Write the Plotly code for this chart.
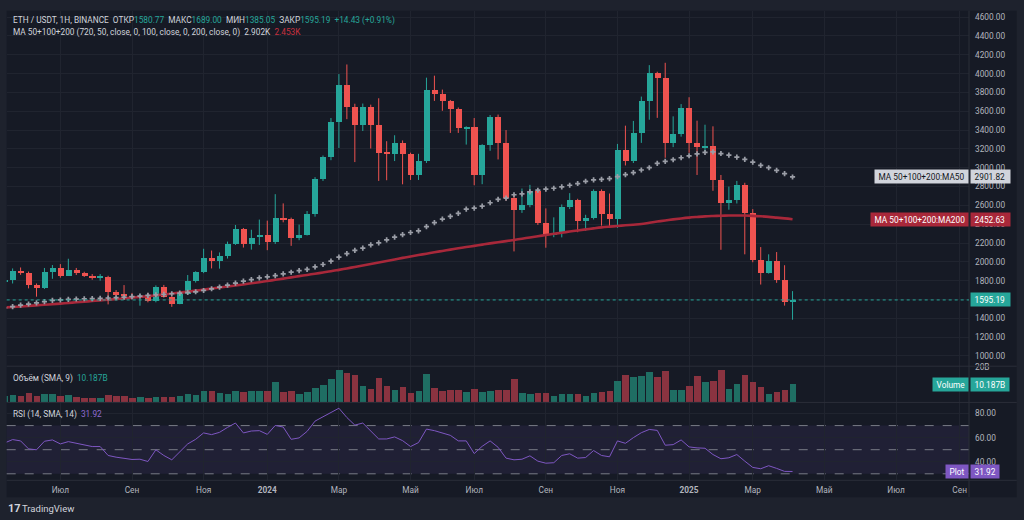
import plotly.graph_objects as go
import pandas as pd

# ---------------- data (weekly ETH/USDT) ----------------
dates = pd.date_range("2023-05-15", periods=100, freq="7D")

open_ = [1797, 1806, 1911, 1887, 1753, 1722, 1900, 1939, 1858, 1922,
         1886, 1858, 1833, 1845, 1682, 1660, 1645, 1630, 1640, 1584,
         1735, 1629, 1558, 1665, 1798, 1893, 2044, 2016, 2062, 2192,
         2357, 2196, 2275, 2285, 2220, 2473, 2455, 2255, 2290, 2508,
         2884, 3116, 3493, 3886, 3651, 3457, 3651, 3457, 3158, 3152,
         3264, 3145, 2930, 3071, 3833, 3784, 3710, 3626, 3425, 3440,
         2930, 3246, 3538, 3271, 2684, 2554, 2613, 2755, 2420, 2297,
         2310, 2586, 2663, 2438, 2473, 2755, 2508, 2455, 3187, 3077,
         3370, 3710, 4009, 3960, 3271, 3359, 3640, 3271, 3219, 3230,
         2870, 2631, 2659, 2817, 2519, 2027, 1886, 2010, 1806, 1580.77]
high = [1850, 1930, 1940, 1897, 1770, 1935, 1966, 1976, 2033, 1935,
        1895, 1870, 1870, 1852, 1700, 1753, 1670, 1660, 1670, 1750,
        1755, 1640, 1670, 1860, 1900, 2139, 2120, 2100, 2215, 2392,
        2360, 2341, 2449, 2438, 2719, 2621, 2470, 2396, 2540, 2900,
        3130, 3528, 3995, 4097, 3680, 3682, 3670, 3738, 3282, 3345,
        3290, 3160, 3148, 3957, 3978, 3830, 3720, 3640, 3440, 3528,
        3250, 3560, 3565, 3400, 2720, 2779, 2818, 2760, 2568, 2473,
        2610, 2730, 2670, 2500, 2770, 2770, 2726, 3253, 3447, 3497,
        3756, 4090, 4020, 4115, 3546, 3676, 3749, 3500, 3457, 3440,
        2923, 2800, 2860, 2840, 2560, 2157, 2080, 2104, 1964, 1689.00]
low = [1760, 1770, 1862, 1718, 1630, 1712, 1820, 1832, 1850, 1860,
       1840, 1810, 1800, 1548, 1630, 1620, 1600, 1534, 1570, 1570,
       1620, 1522, 1550, 1650, 1780, 1880, 1930, 1928, 2035, 2180,
       2152, 2130, 2180, 2124, 2190, 2420, 2170, 2230, 2280, 2480,
       2860, 3080, 3210, 3516, 3060, 3390, 3204, 2860, 2867, 3071,
       2824, 2870, 2870, 3050, 3710, 3605, 3370, 3370, 3246, 2814,
       2825, 3180, 3088, 2650, 2111, 2520, 2580, 2392, 2150, 2262,
       2260, 2561, 2315, 2330, 2450, 2385, 2360, 2360, 3024, 3050,
       3264, 3510, 3530, 3106, 3219, 3330, 3159, 2923, 3159, 2755,
       2128, 2554, 2620, 2080, 1996, 1759, 1875, 1777, 1535, 1385.05]
close = [1806, 1911, 1887, 1753, 1724, 1900, 1939, 1858, 1922, 1886,
         1858, 1833, 1845, 1682, 1654, 1636, 1630, 1640, 1584, 1735,
         1629, 1558, 1665, 1798, 1893, 2044, 2016, 2062, 2192, 2357,
         2196, 2262, 2290, 2220, 2473, 2455, 2255, 2290, 2508, 2884,
         3116, 3493, 3886, 3651, 3457, 3651, 3457, 3158, 3152, 3264,
         3145, 2930, 3071, 3833, 3784, 3710, 3626, 3422, 3440, 2930,
         3246, 3538, 3271, 2684, 2554, 2613, 2755, 2420, 2297, 2310,
         2586, 2663, 2438, 2473, 2755, 2508, 2455, 3187, 3077, 3370,
         3710, 4009, 3960, 3271, 3359, 3640, 3271, 3219, 3230, 2870,
         2631, 2659, 2817, 2519, 2027, 1886, 2010, 1806, 1580.76, 1595.19]

volume_b = [3.3, 4.0, 3.5, 5.0, 3.5, 4.6, 4.6, 3.5, 4.0, 2.9,
            2.3, 2.3, 1.9, 4.0, 3.1, 3.1, 2.3, 2.7, 2.1, 2.7,
            2.7, 2.7, 3.1, 4.6, 4.0, 6.5, 6.0, 5.2, 4.4, 6.5,
            5.8, 6.5, 6.3, 6.5, 11.5, 5.6, 6.0, 4.6, 5.6, 7.9,
            10.0, 13.2, 18.2, 16.7, 15.4, 9.4, 7.5, 13.8, 9.2, 6.9,
            8.4, 5.2, 6.1, 16.1, 7.7, 6.1, 6.9, 7.1, 5.4, 7.5,
            5.4, 6.3, 6.7, 7.1, 13.1, 5.2, 4.6, 5.0, 5.0, 3.6,
            4.4, 4.4, 4.4, 3.6, 5.0, 5.4, 6.3, 11.9, 15.4, 14.2,
            14.8, 17.3, 14.4, 18.0, 6.7, 6.7, 9.0, 14.8, 11.5, 12.1,
            18.2, 7.3, 10.2, 15.5, 11.3, 8.8, 4.6, 5.8, 6.7, 10.187]

ma50 = [1512, 1524, 1540, 1552, 1564, 1577, 1590, 1595, 1601, 1605,
        1608, 1609, 1612, 1616, 1619, 1626, 1630, 1637, 1643, 1650,
        1654, 1661, 1668, 1675, 1682, 1696, 1714, 1732, 1753, 1774,
        1795, 1812, 1830, 1840, 1854, 1872, 1890, 1906, 1920, 1946,
        1972, 2007, 2051, 2088, 2122, 2146, 2181, 2202, 2234, 2262,
        2290, 2312, 2329, 2375, 2417, 2455, 2484, 2515, 2561, 2571,
        2592, 2628, 2663, 2677, 2713, 2722, 2744, 2761, 2772, 2782,
        2797, 2814, 2832, 2856, 2871, 2877, 2884, 2905, 2927, 2948,
        2976, 3000, 3046, 3067, 3085, 3106, 3127, 3148, 3162, 3168,
        3151, 3134, 3113, 3088, 3060, 3025, 3000, 2972, 2937, 2901.82]

ma200 = [1515, 1520, 1526, 1532, 1538, 1544, 1550, 1556, 1563, 1570,
         1577, 1584, 1591, 1598, 1605, 1612, 1620, 1628, 1636, 1645,
         1654, 1663, 1673, 1683, 1694, 1705, 1716, 1727, 1738, 1749,
         1760, 1772, 1784, 1796, 1809, 1822, 1835, 1848, 1861, 1874,
         1887, 1900, 1915, 1930, 1946, 1962, 1978, 1994, 2010, 2026,
         2042, 2057, 2072, 2087, 2102, 2116, 2130, 2144, 2157, 2170,
         2183, 2196, 2208, 2220, 2233, 2246, 2259, 2272, 2285, 2298,
         2310, 2322, 2334, 2345, 2356, 2366, 2374, 2381, 2388, 2395,
         2402, 2415, 2428, 2440, 2451, 2461, 2470, 2477, 2483, 2487,
         2490, 2492, 2493, 2492, 2489, 2484, 2478, 2470, 2462, 2452.63]

rsi = [55.6, 58.4, 57.3, 50.7, 49.9, 57.0, 58.1, 54.8, 56.7, 55.3,
       54.0, 52.6, 52.6, 45.2, 43.8, 42.7, 41.9, 42.1, 40.2, 49.9,
       45.2, 41.6, 47.9, 54.8, 58.6, 63.9, 62.5, 64.4, 68.5, 72.1,
       63.9, 65.5, 65.8, 62.7, 70.1, 68.8, 58.6, 59.8, 65.2, 73.7,
       77.3, 80.8, 84.4, 76.7, 70.4, 72.1, 65.8, 58.9, 58.9, 60.6,
       57.5, 52.6, 55.9, 67.1, 65.8, 64.1, 61.9, 57.3, 57.3, 46.8,
       52.8, 57.3, 52.0, 43.0, 41.6, 42.1, 44.9, 40.5, 38.8, 39.2,
       45.2, 46.6, 43.0, 43.5, 49.3, 45.2, 44.1, 57.3, 55.3, 60.0,
       64.1, 66.8, 66.0, 53.7, 54.2, 58.1, 52.3, 51.5, 51.2, 46.0,
       42.5, 43.3, 46.0, 40.5, 35.3, 34.2, 36.7, 34.5, 32.0, 31.92]

price_ticks = [1000, 1200, 1400, 1600, 1800, 2000, 2200, 2400, 2600, 2800,
               3000, 3200, 3400, 3600, 3800, 4000, 4200, 4400, 4600]
rsi_ticks = [40, 60, 80]
time_tick_dates = ["2023-07-03", "2023-09-04", "2023-11-06", "2024-01-01", "2024-03-04",
                   "2024-05-06", "2024-07-01", "2024-09-02", "2024-11-04", "2025-01-06",
                   "2025-03-03", "2025-05-05", "2025-07-07", "2025-09-01"]
time_tick_text = ["Июл", "Сен", "Ноя", "<b>2024</b>", "Мар", "Май", "Июл", "Сен", "Ноя",
                  "<b>2025</b>", "Мар", "Май", "Июл", "Сен"]

# ---------------- styling ----------------
W, H = 1024, 520
def px(v): return v / W
def py(v): return 1 - v / H

BG = "#161a25"
OUTER = "#1e222d"
GRID = "#20242f"
SEP = "#2a2e39"
TXT = "#b2b5be"
UP = "#26a69a"
DN = "#ef5350"
VUP = "#1f6e63"
VDN = "#8a3340"
MA200C = "#a8283a"
MA50C = "#9a9da6"
PURPLE = "#7e57c2"
FONT = "Roboto"
FS = 8.3

X0, X1 = 6.7, 969.0
RIGHT = 1016.7
TOP, BOTTOM = 6.7, 497.0
MAIN = (TOP, 365.0)
VOL = (365.0, 401.5)
RSIP = (401.5, 480.0)

DAY = 86400000
up_flags = [c >= o for o, c in zip(open_, close)]
body_col = [UP if u else DN for u in up_flags]
vol_col = [VUP if u else VDN for u in up_flags]
body_base = [min(o, c) for o, c in zip(open_, close)]
body_h = [max(abs(c - o), 9) for o, c in zip(open_, close)]

fig = go.Figure()

# wicks
for flag, col in [(True, UP), (False, DN)]:
    xs, ys = [], []
    for d, l, h_, u in zip(dates, low, high, up_flags):
        if u == flag:
            xs += [d, d, None]
            ys += [l, h_, None]
    fig.add_trace(go.Scatter(x=xs, y=ys, mode="lines", line=dict(color=col, width=1),
                             hoverinfo="skip", showlegend=False, yaxis="y"))

# bodies
fig.add_trace(go.Bar(x=dates, y=body_h, base=body_base, width=5.3 * DAY,
                     marker=dict(color=body_col, line=dict(width=0)),
                     showlegend=False, yaxis="y"))

# moving averages
fig.add_trace(go.Scatter(x=dates, y=ma200, mode="lines",
                         line=dict(color=MA200C, width=2.6, shape="spline"),
                         showlegend=False, yaxis="y"))
fig.add_trace(go.Scatter(x=dates, y=ma50, mode="markers",
                         marker=dict(symbol="cross", size=4.3, color=MA50C, line=dict(width=0)),
                         showlegend=False, yaxis="y"))

# volume
fig.add_trace(go.Bar(x=dates, y=[v * 1e9 for v in volume_b], width=5.8 * DAY,
                     marker=dict(color=vol_col, line=dict(width=0)),
                     showlegend=False, yaxis="y2"))

# rsi
fig.add_trace(go.Scatter(x=dates, y=rsi, mode="lines", line=dict(color=PURPLE, width=1),
                         showlegend=False, yaxis="y3"))

# ---------------- axes ----------------
price_per_px = 200 / 18.97
p_at = lambda ypix: 1000 + (354.7 - ypix) * price_per_px
vol_per_px = 20e9 / (401.0 - 366.3)
rsi_per_px = 20 / 24.3

# tick labels hidden behind the last-price label (as on the reference)
price_ticktext = ["" if abs(v - close[-1]) < 60 else f"{v:.2f}" for v in price_ticks]

fig.update_layout(
    width=W, height=H,
    margin=dict(l=0, r=0, t=0, b=0),
    paper_bgcolor=OUTER, plot_bgcolor="rgba(0,0,0,0)",
    bargap=0, barmode="overlay",
    font=dict(family=FONT, size=FS, color=TXT),
    xaxis=dict(type="date", domain=[px(X0), px(X1)],
               range=["2023-05-16 19:00", "2025-09-09 05:00"],
               anchor="y3", tickvals=time_tick_dates, ticktext=time_tick_text,
               showgrid=True, gridcolor=GRID, gridwidth=1, ticks="", showline=False,
               zeroline=False, tickfont=dict(size=FS, color=TXT), ticklabelstandoff=3),
    yaxis=dict(domain=[py(MAIN[1]), py(MAIN[0])], range=[p_at(MAIN[1]), p_at(MAIN[0])],
               side="right", anchor="x", tickvals=price_ticks,
               ticktext=price_ticktext,
               showgrid=True, gridcolor=GRID, ticks="", showline=False, zeroline=False,
               ticklabelstandoff=5, tickfont=dict(size=FS, color=TXT)),
    yaxis2=dict(domain=[py(VOL[1]), py(VOL[0])],
                range=[-(VOL[1] - 401.0) * vol_per_px, (401.0 - VOL[0]) * vol_per_px],
                side="right", anchor="x", tickvals=[20e9], ticktext=["20B"],
                showgrid=False, ticks="", showline=False, zeroline=False,
                ticklabelstandoff=5, tickfont=dict(size=FS, color=TXT)),
    yaxis3=dict(domain=[py(RSIP[1]), py(RSIP[0])],
                range=[80 - (RSIP[1] - 412.7) * rsi_per_px, 80 + (412.7 - RSIP[0]) * rsi_per_px],
                side="right", anchor="x", tickvals=rsi_ticks,
                ticktext=[f"{v:.2f}" for v in rsi_ticks],
                showgrid=True, gridcolor=GRID, ticks="", showline=False, zeroline=False,
                ticklabelstandoff=5, tickfont=dict(size=FS, color=TXT)),
)

# ---------------- shapes ----------------
shapes = [
    dict(type="rect", xref="paper", yref="paper", x0=px(X0), x1=px(RIGHT),
         y0=py(BOTTOM), y1=py(TOP), fillcolor=BG, line=dict(width=0), layer="below"),
    dict(type="rect", xref="x domain", yref="y3", x0=0, x1=1, y0=30, y1=70,
         fillcolor="rgba(126,87,194,0.10)", line=dict(width=0), layer="below"),
]
for lvl in [70, 50, 30]:
    shapes.append(dict(type="line", xref="x domain", yref="y3", x0=0, x1=1, y0=lvl, y1=lvl,
                       line=dict(color="#787b86", width=1, dash="dash"), layer="below"))
for ysep in [MAIN[1], VOL[1], RSIP[1]]:
    shapes.append(dict(type="line", xref="paper", yref="paper", x0=px(X0), x1=px(RIGHT),
                       y0=py(ysep), y1=py(ysep), line=dict(color=SEP, width=1)))
shapes.append(dict(type="line", xref="paper", yref="paper", x0=px(X1), x1=px(X1),
                   y0=py(BOTTOM), y1=py(TOP), line=dict(color=SEP, width=1)))
shapes.append(dict(type="line", xref="x domain", yref="y", x0=0, x1=1,
                   y0=close[-1], y1=close[-1], line=dict(color=UP, width=1, dash="dot")))
fig.update_layout(shapes=shapes)

# ---------------- annotations ----------------
nb = "&nbsp;"
def teal(t): return f"<span style='color:{UP}'>{t}</span>"
chg = close[-1] - close[-2]
pct = chg / close[-2] * 100
hdr1 = (f"<span style='color:#d1d4dc'>ETH / USDT, 1H, BINANCE</span>{nb*2}"
        f"ОТКР{teal(f'{open_[-1]:.2f}')}{nb*2}МАКС{teal(f'{high[-1]:.2f}')}{nb*2}"
        f"МИН{teal(f'{low[-1]:.2f}')}{nb*2}ЗАКР{teal(f'{close[-1]:.2f}')}{nb*2}"
        f"{teal(f'{chg:+.2f} ({pct:+.2f}%)')}")
hdr2 = (f"MA 50+100+200 (720, 50, close, 0, 100, close, 0, 200, close, 0){nb*2}"
        f"<span style='color:#d1d4dc'>{ma50[-1]/1000:.3f}K</span>{nb*2}"
        f"<span style='color:#c9313f'>{ma200[-1]/1000:.3f}K</span>")
vol_leg = f"Объём (SMA, 9){nb*2}{teal(f'{volume_b[-1]:.3f}B')}"
rsi_leg = f"RSI (14, SMA, 14){nb*2}<span style='color:#8e6bd1'>{rsi[-1]:.2f}</span>"

ann = []
def txt(t, x, y, size=FS, color="#d1d4dc"):
    ann.append(dict(text=t, xref="paper", yref="paper", x=px(x), y=py(y), xanchor="left",
                    yanchor="middle", showarrow=False, font=dict(size=size, color=color, family=FONT)))
txt(hdr1, 10.5, 16.5)
txt(hdr2, 10.5, 28.5)
txt(vol_leg, 10.5, 377)
txt(rsi_leg, 10.5, 413.5)
txt("<b>17</b>", 5.5, 508.5, size=11, color="#d1d4dc")
txt("TradingView", 20, 508.5, size=9.5, color="#d1d4dc")

def box(t, xa, x, yref, y, bg, fg):
    ann.append(dict(text=t, xref="paper", yref=yref, x=px(x), y=y, xanchor=xa, yanchor="middle",
                    showarrow=False, bgcolor=bg, borderpad=1.5,
                    font=dict(size=FS, color=fg, family=FONT)))

box(f"{nb}{ma50[-1]:.2f}{nb*2}", "left", X1 + 0.5, "y", ma50[-1], "#d1d4dc", "#131722")
box(f"{nb}MA 50+100+200:MA50{nb}", "right", X1 - 0.5, "y", ma50[-1], "#d1d4dc", "#131722")
box(f"{nb}{ma200[-1]:.2f}{nb*2}", "left", X1 + 0.5, "y", ma200[-1], MA200C, "#ffffff")
box(f"{nb}MA 50+100+200:MA200{nb}", "right", X1 - 0.5, "y", ma200[-1], MA200C, "#ffffff")
box(f"{nb}{close[-1]:.2f}{nb*2}", "left", X1 + 0.5, "y", close[-1], UP, "#ffffff")
box(f"{nb}{volume_b[-1]:.3f}B{nb}", "left", X1 + 0.5, "y2", volume_b[-1] * 1e9, UP, "#ffffff")
box(f"{nb}Volume{nb}", "right", X1 - 0.5, "y2", volume_b[-1] * 1e9, UP, "#ffffff")
box(f"{nb}{rsi[-1]:.2f}{nb}", "left", X1 + 0.5, "y3", rsi[-1], PURPLE, "#ffffff")
box(f"{nb}Plot{nb}", "right", X1 - 0.5, "y3", rsi[-1], PURPLE, "#ffffff")

fig.update_layout(annotations=ann)
fig.write_html("out.html",
               config={"displayModeBar": False},
               post_script="document.body.style.margin='0';document.body.style.padding='0';"
                           "document.body.style.overflow='hidden';")
